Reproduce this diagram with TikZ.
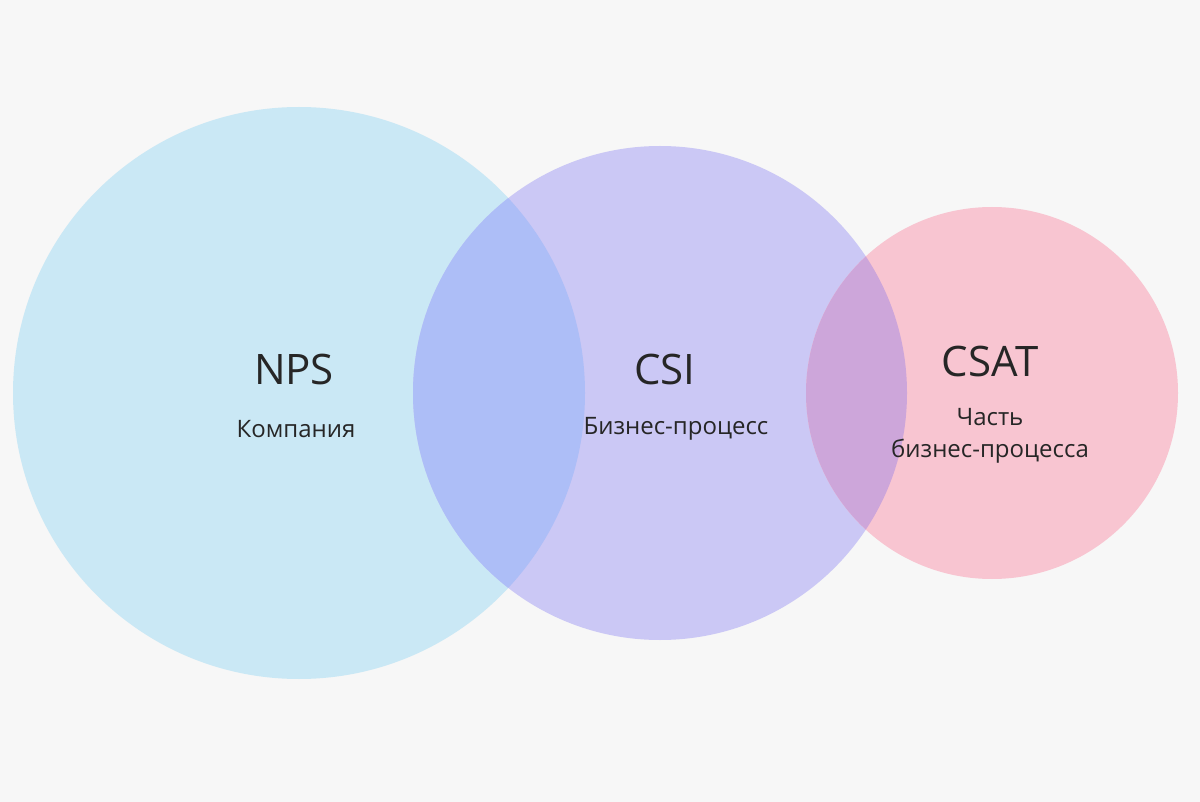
\documentclass[tikz,border=0pt]{standalone}
\usepackage{fontspec}
\setmainfont{Open Sans}
\definecolor{bg}{HTML}{F7F7F7}
\definecolor{cnps}{HTML}{CAE8F5}
\definecolor{ccsi}{HTML}{CBC8F5}
\definecolor{ccsat}{HTML}{F8C5D1}
\definecolor{cab}{HTML}{ADBEF7}
\definecolor{cbc}{HTML}{CDA6DA}
\definecolor{txt}{HTML}{262626}
\begin{document}
\begin{tikzpicture}[x=1pt,y=-1pt,
  big/.style={text=txt,font=\fontsize{42}{48}\selectfont},
  small/.style={text=txt,font=\fontsize{24}{32}\selectfont,align=center}]
\fill[bg] (0,0) rectangle (1200,802);
\useasboundingbox (0,0) rectangle (1200,802);
\fill[cnps] (299,393) circle (286);
\fill[ccsi] (660,393) circle (247);
\fill[ccsat] (992,393) circle (186);
\begin{scope}
\clip (299,393) circle (286);
\fill[cab] (660,393) circle (247);
\end{scope}
\begin{scope}
\clip (660,393) circle (247);
\fill[cbc] (992,393) circle (186);
\end{scope}
\node[big] (nps) at (294,369) {NPS};
\node[small] (npsl) at (296,429) {Компания};
\node[big] (csi) at (665,369) {CSI};
\node[small] (csil) at (676,429) {Бизнес-процесс};
\node[big] (csat) at (990,361) {CSAT};
\node[small] (csatl) at (990,436) {Часть\\бизнес-процесса};
\end{tikzpicture}
\end{document}
